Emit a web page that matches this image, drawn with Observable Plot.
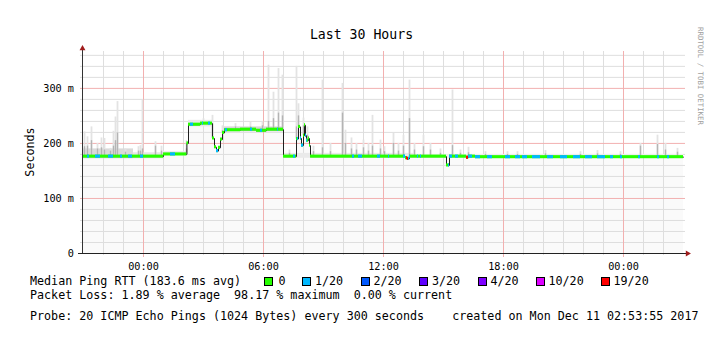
<!DOCTYPE html>
<html><head><meta charset="utf-8">
<script src="https://cdn.jsdelivr.net/npm/d3@7"></script>
<script src="https://cdn.jsdelivr.net/npm/@observablehq/plot@0.6"></script>
<style>
html,body{margin:0;padding:0;background:#fff;}
#wrap{position:relative;width:727px;height:355px;overflow:hidden;background:#fff;font-family:'DejaVu Sans Mono',monospace;color:#000;}
#wrap svg{position:absolute;left:0;top:0;}
.t{position:absolute;white-space:pre;line-height:1;}
.box{position:absolute;width:9px;height:9px;box-sizing:border-box;border:1px solid #000;}
</style></head><body><div id="wrap"></div>
<script>
// ---- data (hours relative to 00:00 Dec 10; values in ms) ----
const title = "Last 30 Hours";
const yLabel = "Seconds";
const watermark = "RRDTOOL / TOBI OETIKER";
const xDomain = [-3.05, 27.0];
const yDomain = [0, 367];
const xMajorTicks = [0, 6, 12, 18, 24];
const xTickLabels = ["00:00", "06:00", "12:00", "18:00", "00:00"];
const yMajorTicks = [0, 100, 200, 300];
const yTickLabels = ["0", "100 m", "200 m", "300 m"];
const lossLabels = ["0", "1/20", "2/20", "3/20", "4/20", "10/20", "19/20"];
const lossColors = ["#26ff00", "#00b8ff", "#0059ff", "#5e00ff", "#7e00ff", "#dd00ff", "#ff0000"];
const legendTitle = "Median Ping RTT (183.6 ms avg)";
const lossLine = "Packet Loss: 1.89 % average  98.17 % maximum  0.00 % current";
const probeLine = "Probe: 20 ICMP Echo Pings (1024 Bytes) every 300 seconds    created on Mon Dec 11 02:53:55 2017";

// median RTT: [start hour, value ms] (value holds until next entry)
const medianSteps = [
 [-3.05,176],[1.0,180],[2.17,200],[2.25,234],[2.85,236],[3.45,209],[3.55,193],[3.65,186],
 [3.75,192],[3.85,207],[3.95,219],[4.05,224],[4.85,225],[5.65,223],[6.15,225],[7.0,176],
 [7.65,208],[7.75,230],[7.85,209],[7.9,196],[8.0,214],[8.05,233],[8.1,214],[8.15,205],
 [8.25,209],[8.3,196],[8.35,176],[13.1,173],[13.2,172],[13.3,176],[15.15,160],[15.3,176],
 [16.15,174],[16.25,176],[16.6,175],[27.0,175]
];
// stretches with packet loss: [from hour, to hour, loss label]
const lossRuns = [
 [-2.80,-2.70,"1/20"],[-2.40,-2.15,"1/20"],[-1.75,-1.50,"1/20"],[-1.15,-1.05,"1/20"],
 [-0.75,-0.55,"1/20"],[-0.15,0.0,"1/20"],[1.35,1.60,"1/20"],[2.35,2.50,"1/20"],
 [2.95,3.00,"1/20"],[3.25,3.35,"1/20"],[3.65,3.75,"1/20"],[4.10,4.20,"1/20"],
 [5.35,5.45,"1/20"],[5.85,5.95,"1/20"],[6.70,6.75,"1/20"],[7.50,7.60,"1/20"],
 [7.70,7.75,"1/20"],[7.85,8.00,"1/20"],[8.10,8.20,"1/20"],[10.45,10.55,"1/20"],
 [10.75,10.95,"1/20"],[11.70,11.85,"1/20"],[12.25,12.30,"1/20"],[13.00,13.10,"1/20"],
 [13.25,13.35,"1/20"],[13.70,13.75,"1/20"],[13.85,13.90,"1/20"],[15.25,15.45,"1/20"],
 [15.60,15.75,"1/20"],[16.25,16.45,"1/20"],[16.60,16.85,"1/20"],[17.20,17.45,"1/20"],
 [18.10,18.35,"1/20"],[18.60,18.85,"1/20"],[18.95,19.20,"1/20"],[19.45,19.85,"1/20"],
 [20.20,20.50,"1/20"],[20.85,21.20,"1/20"],[21.50,21.85,"1/20"],[22.10,22.45,"1/20"],
 [22.70,23.10,"1/20"],[23.35,23.50,"1/20"],[23.85,23.95,"1/20"],[24.75,24.85,"1/20"],
 [25.70,25.80,"1/20"],[26.20,26.30,"1/20"],
 [13.15,13.25,"19/20"],[16.15,16.25,"19/20"]
];
// smoke bands around the median: [from hour, to hour, low ms, high ms, shade]
const smokeBands = [
 [-3.05,-0.5,172,190,"#dadada"],[-0.5,1.0,172,183,"#e6e6e6"],[1.0,2.2,177,185,"#eaeaea"],
 [2.25,3.45,230,242,"#e8e8e8"],[4.05,7.0,221,230,"#d6d6d6"],[7.0,13.5,173,182,"#eaeaea"],
 [13.5,27.0,173,180,"#efefef"]
];
// smoke spikes: [hour, max ms, dark part max ms]
const spikes = [
 [-2.95,221,194],[-2.8,212,195],[-2.6,230,205],[-2.3,200,190],[-2.1,210,192],[-1.95,209,188],
 [-1.65,191,186],[-1.5,222,195],[-1.4,248,205],[-1.3,276,219],[-0.9,190,184],[-0.25,194,186],
 [-0.15,196,186],[-0.05,279,190],[0.6,203,195],[0.9,195,186],[2.15,205,190],[3.0,245,238],
 [3.45,251,235],[3.95,232,223],[4.6,236,230],[5.35,238,230],[5.95,240,232],[6.25,342,240],
 [6.5,293,245],[6.75,336,255],[6.95,324,250],[7.3,188,182],[7.65,340,230],[7.75,272,250],
 [8.0,246,232],[8.2,230,215],[8.5,195,185],[8.95,315,192],[9.35,200,185],[9.95,309,255],
 [10.1,224,200],[10.4,210,190],[10.65,200,188],[11.0,206,192],[11.25,200,186],[11.45,251,195],
 [11.85,206,190],[12.05,194,185],[12.5,218,200],[12.75,200,186],[13.0,215,195],[13.3,315,245],
 [13.55,200,188],[14.0,215,194],[14.35,200,188],[14.85,190,182],[15.45,297,196],[15.85,188,182],
 [16.25,193,183],[17.1,185,180],[18.2,185,180],[18.7,185,180],[20.1,187,181],[21.85,185,180],
 [22.7,187,181],[23.85,185,180],[24.85,200,195],[25.7,215,198],[26.1,200,188],[26.7,191,184]
];

// ---- helpers ----
const colorOf = Object.fromEntries(lossLabels.map((l, i) => [l, lossColors[i]]));
function medianAt(h) {
  let v = medianSteps[0][1];
  for (const [t, m] of medianSteps) { if (t <= h) v = m; else break; }
  return v;
}
const segs = medianSteps.slice(0, -1).map((d, i) => ({x1: d[0], x2: medianSteps[i + 1][0], v: d[1]}));
const lossRects = [];
for (const [a, b, lab] of lossRuns) {
  for (const s of segs) {
    const x1 = Math.max(a, s.x1), x2 = Math.min(b, s.x2);
    if (x2 > x1) lossRects.push({x1, x2, v: s.v, c: colorOf[lab]});
  }
}
const band = 2.8;
const minorY = d3.range(20, 367, 20).filter(v => !yMajorTicks.includes(v));
const minorX = d3.range(-2, 27, 1).filter(v => !xMajorTicks.includes(v));
const gridGray = "#dedede", gridRed = "#f2b0b0";

const chart = Plot.plot({
  width: 727, height: 355,
  marginLeft: 82, marginRight: 44, marginTop: 51, marginBottom: 102,
  x: {domain: xDomain},
  y: {domain: yDomain},
  style: {fontFamily: "'DejaVu Sans Mono', monospace", fontSize: "10.2px", background: "transparent", color: "#000"},
  marks: [
    Plot.areaY(medianSteps, {x: d => d[0], y: d => d[1], curve: "step-after", fill: "#fafafa"}),
    Plot.ruleY(minorY, {stroke: gridGray, insetLeft: -2, insetRight: -2}),
    Plot.ruleX(minorX, {stroke: gridGray, insetBottom: -2}),
    Plot.ruleY(yMajorTicks.slice(1), {stroke: gridRed, insetLeft: -2, insetRight: -2}),
    Plot.ruleX(xMajorTicks, {stroke: gridRed, insetBottom: -4}),
    Plot.rect(smokeBands, {x1: d => d[0], x2: d => d[1], y1: d => d[2], y2: d => d[3], fill: d => d[4]}),
    Plot.ruleX(spikes, {x: d => d[0], y1: d => medianAt(d[0]), y2: d => d[1], stroke: "#e3e3e3", strokeWidth: 1.8}),
    Plot.ruleX(spikes, {x: d => d[0], y1: d => medianAt(d[0]), y2: d => d[2], stroke: "#b4b4b4", strokeWidth: 1.4}),
    Plot.line(medianSteps, {x: d => d[0], y: d => d[1], curve: "step-after", stroke: "#202020", strokeWidth: 1}),
    Plot.rect(segs, {x1: "x1", x2: "x2", y1: d => d.v - band, y2: d => d.v + band, fill: lossColors[0]}),
    Plot.rect(lossRects, {x1: "x1", x2: "x2", y1: d => d.v - band, y2: d => d.v + band, fill: d => d.c}),
    Plot.ruleX([xDomain[0]], {stroke: "#333", insetTop: -4}),
    Plot.ruleY([yDomain[0]], {stroke: "#222", insetLeft: -4, insetRight: -4}),
    Plot.dot([0], {frameAnchor: "top-left", dy: -3, symbol: "triangle", r: 2.2, fill: "#a01c1c", stroke: null}),
    Plot.dot([0], {frameAnchor: "bottom-right", dx: 4, symbol: "triangle", rotate: 90, r: 2.2, fill: "#a01c1c", stroke: null}),
    Plot.axisY(yMajorTicks, {tickSize: 0, tickPadding: 8.5, tickFormat: d => yTickLabels[yMajorTicks.indexOf(d)], label: null, fontSize: 10.2}),
    Plot.axisX(xMajorTicks, {tickSize: 0, tickPadding: 9, tickFormat: d => xTickLabels[xMajorTicks.indexOf(d)], label: null, fontSize: 10.2})
  ]
});
const wrap = document.getElementById("wrap");
wrap.appendChild(chart);

function txt(s, x, yc, size, extra) {
  const el = document.createElement("div");
  el.className = "t";
  el.textContent = s;
  el.style.fontSize = size + "px";
  el.style.left = x + "px";
  el.style.top = (yc - size * 0.5) + "px";
  if (extra) Object.assign(el.style, extra);
  wrap.appendChild(el);
  return el;
}
// title
txt(title, 0, 35, 13.2, {width: "723px", textAlign: "center", left: "0px"});
// y label (rotated)
txt(yLabel, 31, 152, 11.7, {top: "152px", transform: "translate(-50%,-50%) rotate(-90deg)"});
// watermark
txt(watermark, 700, 76, 7.4, {top: "76px", color: "#a0a0a0", transform: "translate(-50%,-50%) rotate(90deg)"});
// legend
txt(legendTitle, 30, 281.5, 11.7);
const boxX = [264, 301.5, 360.5, 419, 477.5, 536, 600.5];
const labX = [278.5, 315, 373.5, 432, 490.5, 548.5, 613.5];
lossLabels.forEach((l, i) => {
  const b = document.createElement("div");
  b.className = "box";
  b.style.left = boxX[i] + "px";
  b.style.top = "277px";
  b.style.background = lossColors[i];
  wrap.appendChild(b);
  txt(l, labX[i], 281.5, 11.7);
});
txt(lossLine, 30, 295.5, 11.7);
txt(probeLine, 30, 317, 11.7);
</script></body></html>
